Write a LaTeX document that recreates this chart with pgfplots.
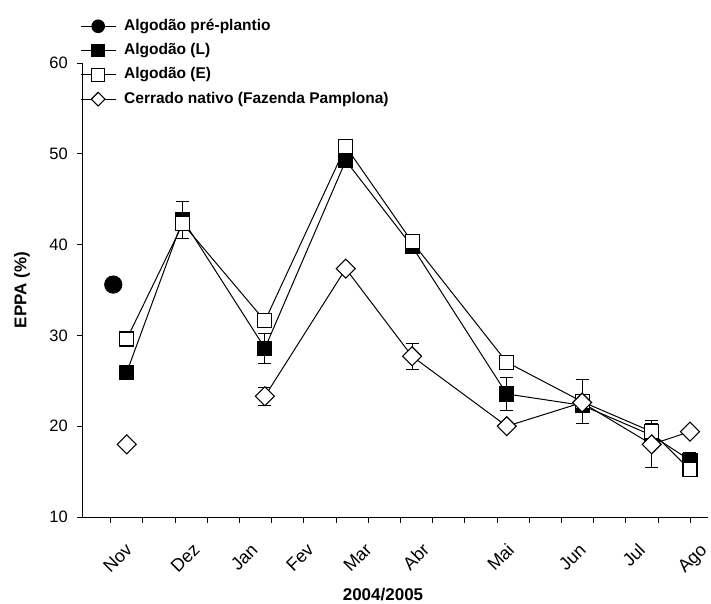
\documentclass[border=0pt]{standalone}
\usepackage{pgfplots}
\pgfplotsset{compat=1.18}
\usepackage{pgfplotstable}
\usepackage{fontspec}
\setmainfont{Liberation Sans}

% x: month position in units of the minor tick spacing
\pgfplotstableread{
x y e
1.08 35.6 0
}\pre
\pgfplotstableread{
x y e
1.50 25.95 0
3.24 42.75 2.05
5.79 28.6 1.65
8.30 49.25 0
10.36 39.8 0
13.30 23.55 1.8
15.64 22.3 0
17.80 19.0 1.3
18.99 16.25 0.85
}\algL
\pgfplotstableread{
x y e
1.50 29.6 0
3.24 42.3 0
5.79 31.6 0
8.30 50.8 0
10.36 40.3 0
13.30 27.05 0
15.64 22.7 2.45
17.80 19.4 0
18.99 15.2 0
}\algE
\pgfplotstableread{
x y e
1.50 18.0 0
3.24 nan 0
5.79 23.3 1.0
8.30 37.35 0
10.36 27.7 1.45
13.30 20.0 0
15.64 22.6 0
17.80 18.0 2.6
18.99 19.4 0
}\cerr

\pgfplotsset{
  lg/.style={legend image code/.code={\draw[mark repeat=2,mark phase=2,mark size=#1]
    plot coordinates {(0pt,0pt) (17.5pt,0pt) (35pt,0pt)};}},
  eb/.style={black, line width=1pt, only marks, mark size=0pt, forget plot,
    error bars/.cd, y dir=both, y explicit, error mark=-,
    error bar style={line width=1pt},
    error mark options={rotate=90, mark size=6.5pt, line width=1pt, black}},
}

\begin{document}
\begin{tikzpicture}
\begin{axis}[
  scale only axis, width=625pt, height=454pt,
  xmin=0.14, xmax=19.55, ymin=10, ymax=60,
  axis x line*=bottom, axis y line*=left,
  axis line style={line width=1pt, -},
  xtick={1.52,3.62,5.42,7.16,8.96,10.73,13.37,15.61,17.44,19.36},
  xticklabels={Nov,Dez,Jan,Fev,Mar,Abr,Mai,Jun,Jul,Ago},
  minor xtick={1,...,19},
  ytick={10,20,...,60},
  tick style={line width=1pt, black},
  xtick align=outside, ytick align=outside,
  major tick length=6pt, minor tick length=6pt,
  major x tick style={draw=none},
  xticklabel shift=28pt,
  xticklabel style={rotate=45, anchor=north east, inner sep=0pt,
    xshift=4.3pt, yshift=8.5pt, font=\fontsize{18}{21}\selectfont},
  yticklabel style={inner sep=0pt, xshift=-9pt, font=\fontsize{16.5}{19}\selectfont},
  /pgf/number format/assume math mode=true,
  unbounded coords=jump,
  xlabel={2004/2005}, ylabel={EPPA (\%)},
  every axis x label/.style={at={(axis description cs:0.48,-0.1844)}, anchor=base,
    inner sep=0pt, font=\bfseries\fontsize{17}{20}\selectfont},
  every axis y label/.style={at={(axis description cs:-0.0976,0.5)}, rotate=90,
    anchor=center, inner sep=0pt, font=\bfseries\fontsize{17}{20}\selectfont},
  legend style={at={(axis description cs:-0.0048,1.099)}, anchor=north west,
    draw=none, fill=none, inner sep=0pt, row sep=8.3pt,
    font=\bfseries\fontsize{15.5}{18}\selectfont,
    nodes={inner xsep=5pt, inner ysep=0pt, text height=12pt, text depth=4pt},
    /tikz/every odd column/.append style={column sep=3pt}},
  legend cell align=left,
]
\addplot[eb] table[x=x, y=y, y error=e] {\algL};
\addplot[eb] table[x=x, y=y, y error=e] {\algE};
\addplot[eb] table[x=x, y=y, y error=e] {\cerr};

\addplot[black, line width=1pt, mark=*, mark size=8.6pt, lg=6.3pt] table[x=x, y=y] {\pre};
\addlegendentry{Algodão pré-plantio}
\addplot[black, line width=1pt, mark=square*, mark size=7pt,
  mark options={fill=black, line width=1.1pt}, lg=6.3pt] table[x=x, y=y] {\algL};
\addlegendentry{Algodão (L)}
\addplot[black, line width=1pt, mark=square*, mark size=7pt,
  mark options={fill=white, line width=1.1pt}, lg=6.3pt] table[x=x, y=y] {\algE};
\addlegendentry{Algodão (E)}
\addplot[black, line width=1pt, mark=square*, mark size=6.7pt,
  mark options={fill=white, line width=1.1pt, rotate=45}, lg=4.85pt] table[x=x, y=y] {\cerr};
\addlegendentry{Cerrado nativo (Fazenda Pamplona)}
\end{axis}
\pgfresetboundingbox
\path[use as bounding box] (-83pt,-86pt) rectangle (628pt,517pt);
\end{tikzpicture}
\end{document}
